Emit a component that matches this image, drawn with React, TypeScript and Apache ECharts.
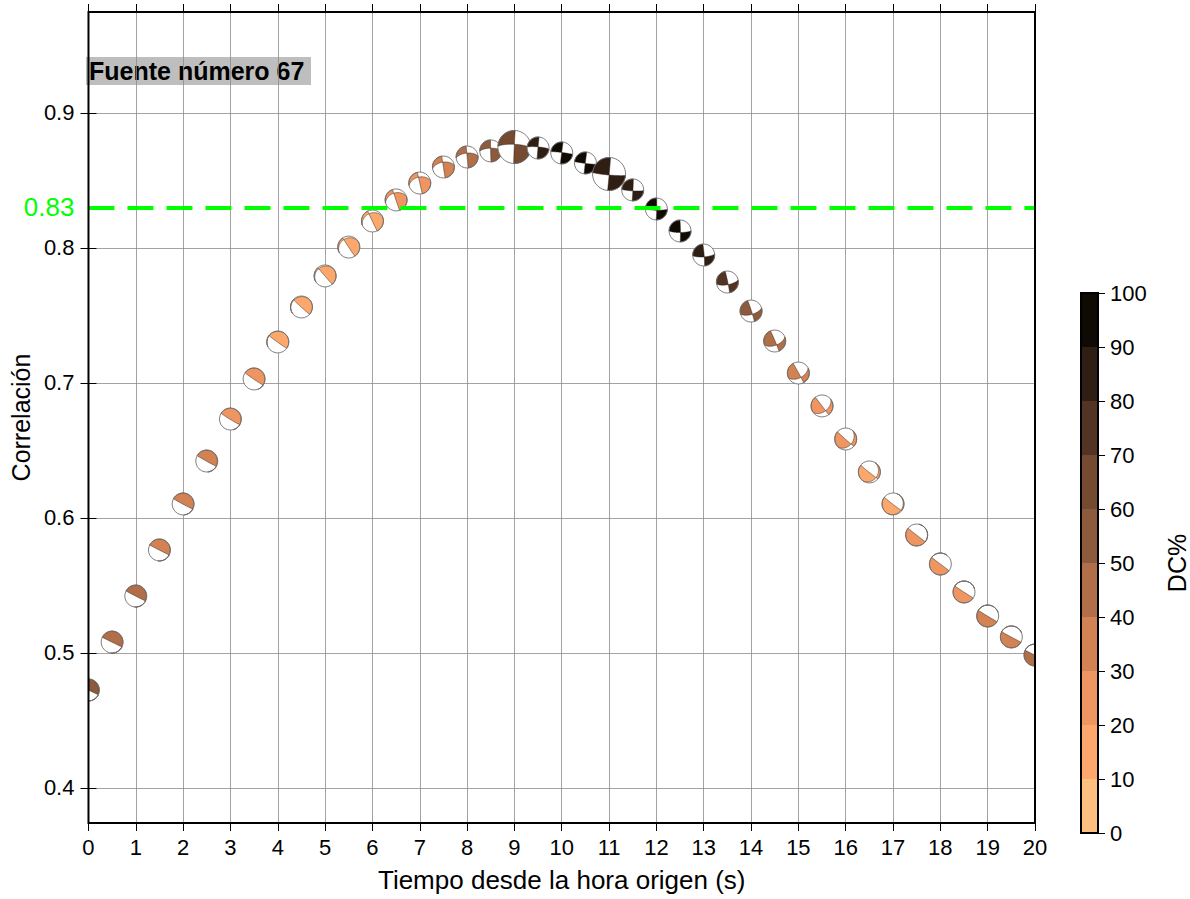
import React, { useEffect, useRef } from "react";
import * as echarts from "echarts";

// Origin-time scan for source 67: correlation, DC% and focal mechanism (T and P axes)
const times = [0, 0.5, 1, 1.5, 2, 2.5, 3, 3.5, 4, 4.5, 5, 5.5, 6, 6.5, 7, 7.5, 8, 8.5, 9, 9.5, 10, 10.5, 11, 11.5, 12, 12.5, 13, 13.5, 14, 14.5, 15, 15.5, 16, 16.5, 17, 17.5, 18, 18.5, 19, 19.5, 20];
const correlation = [0.4726, 0.5081, 0.5422, 0.5763, 0.6104, 0.6422, 0.6733, 0.703, 0.7304, 0.7563, 0.7793, 0.8007, 0.82, 0.8356, 0.8481, 0.86, 0.8674, 0.8719, 0.8748, 0.8741, 0.8704, 0.863, 0.8548, 0.843, 0.8289, 0.8126, 0.7948, 0.7748, 0.7533, 0.7311, 0.7074, 0.683, 0.6585, 0.6341, 0.6104, 0.5874, 0.5659, 0.5452, 0.5274, 0.5119, 0.4985];
const dcPercent = [55, 45, 48, 35, 35, 32, 25, 28, 15, 12, 12, 15, 15, 22, 25, 35, 45, 55, 65, 85, 95, 95, 85, 85, 95, 95, 85, 75, 55, 45, 35, 25, 28, 15, 15, 22, 25, 28, 35, 38, 45];
const tAzimuth = [22, 23, 24, 24, 25, 26, 28, 32, 40, 50, 62, 75, 90, 102, 112, 120, 126, 132, 137, 140, 142, 322, 320, 318, 316, 314, 310, 302, 295, 288, 280, 268, 250, 238, 226, 220, 216, 212, 210, 207, 205];
const tPlunge = [46, 46, 46, 46, 47, 47, 48, 48, 47, 46, 45, 43, 40, 36, 30, 25, 20, 15, 10, 6, 3, 2, 4, 6, 8, 10, 12, 16, 20, 24, 27, 30, 34, 38, 42, 44, 45, 44, 44, 44, 44];
const pAzimuth = [204, 205, 206, 206, 207, 208, 210, 212, 212, 215, 218, 220, 222, 224, 226, 228, 230, 232, 233, 231, 232, 52, 50, 48, 46, 44, 40, 36, 32, 28, 22, 18, 15, 20, 30, 36, 34, 30, 28, 25, 23];
const pPlunge = [44, 44, 44, 44, 43, 43, 42, 42, 42, 42, 40, 38, 35, 32, 28, 22, 18, 12, 8, 5, 2, 3, 3, 4, 5, 6, 8, 12, 15, 20, 25, 30, 35, 40, 44, 45, 46, 46, 46, 46, 46];
const relativeSize = [1, 1, 1, 1, 1, 1, 1, 1, 1, 1, 1, 1, 1, 1, 1, 1, 1, 1, 1.5, 1, 1, 1, 1.5, 1, 1, 1, 1, 1, 1, 1, 1, 1, 1, 1, 1, 1, 1, 1, 1, 1, 1];

const threshold = 0.83;
const yTicks = [0.4, 0.5, 0.6, 0.7, 0.8, 0.9];
const dcColors = ["#fdbf7f", "#fca86d", "#ee9561", "#d28253", "#b06e49", "#8e5a3d", "#744a31", "#533424", "#2f1e13", "#100a05"];
const dcStep = 10;

const FONT = '"Liberation Sans", Arial, Helvetica, sans-serif';
const BALL_RADIUS = 11;

type V3 = [number, number, number];
const D2R = Math.PI / 180;
const dot = (a: V3, b: V3) => a[0] * b[0] + a[1] * b[1] + a[2] * b[2];
const cross = (a: V3, b: V3): V3 => [a[1] * b[2] - a[2] * b[1], a[2] * b[0] - a[0] * b[2], a[0] * b[1] - a[1] * b[0]];
const unit = (a: V3): V3 => {
  const l = Math.hypot(a[0], a[1], a[2]) || 1;
  return [a[0] / l, a[1] / l, a[2] / l];
};
const neg = (a: V3): V3 => [-a[0], -a[1], -a[2]];
const lin = (a: V3, ka: number, b: V3, kb: number): V3 => [a[0] * ka + b[0] * kb, a[1] * ka + b[1] * kb, a[2] * ka + b[2] * kb];

// axis (azimuth, plunge) -> North/East/Down unit vector
const axisVec = (az: number, pl: number): V3 => [
  Math.cos(pl * D2R) * Math.cos(az * D2R),
  Math.cos(pl * D2R) * Math.sin(az * D2R),
  Math.sin(pl * D2R),
];

// lower-hemisphere equal-area projection, unit radius, screen x east / y south
const project = (r: V3): [number, number] => {
  const v = r[2] < 0 ? neg(r) : r;
  const inc = Math.acos(Math.max(-1, Math.min(1, v[2])));
  const az = Math.atan2(v[1], v[0]);
  const rho = Math.SQRT2 * Math.sin(inc / 2);
  return [rho * Math.sin(az), -rho * Math.cos(az)];
};

const planeBasis = (normal: V3) => {
  let hx = -normal[1];
  let hy = normal[0];
  let hl = Math.hypot(hx, hy);
  if (hl < 1e-9) {
    hx = 1;
    hy = 0;
    hl = 1;
  }
  const h: V3 = [hx / hl, hy / hl, 0];
  let d = unit(cross(normal, h));
  if (d[2] < 0) d = neg(d);
  return { h, d };
};

// compressional quadrants of a double couple, as polygons in the unit disc
function mechanismPolygons(tAz: number, tPl: number, pAz: number, pPl: number): [number, number][][] {
  const T = axisVec(tAz, tPl);
  const p0 = axisVec(pAz, pPl);
  let P = unit(lin(p0, 1, T, -dot(p0, T)));
  let B = unit(cross(T, P));
  // keep the null axis off the rim so the four quadrants stay distinct
  if (Math.abs(B[2]) < 0.03) {
    const a = 3 * D2R;
    P = unit(lin(P, Math.cos(a), B, Math.sin(a)));
    B = unit(cross(T, P));
  }
  if (B[2] < 0) B = neg(B);
  const n1 = unit(lin(T, 1, P, 1));
  const n2 = unit(lin(T, 1, P, -1));
  const polarity = (r: V3) => dot(T, r) ** 2 - dot(P, r) ** 2;
  const planes = [planeBasis(n1), planeBasis(n2)];
  const tB = planes.map(({ h, d }) => Math.atan2(dot(B, d), dot(B, h)));
  const pointAt = (idx: number, t: number): V3 => lin(planes[idx].h, Math.cos(t), planes[idx].d, Math.sin(t));
  const ends: { k: number; t: number; az: number }[] = [];
  for (let p = 0; p < 2; p++) {
    for (const t of [0, Math.PI]) {
      const r = pointAt(p, t);
      let az = Math.atan2(r[1], r[0]);
      if (az < 0) az += 2 * Math.PI;
      ends.push({ k: p, t, az });
    }
  }
  ends.sort((a, b) => a.az - b.az);
  const polys: [number, number][][] = [];
  const N = 36;
  for (let i = 0; i < 4; i++) {
    const a = ends[i];
    const b = ends[(i + 1) % 4];
    let span = b.az - a.az;
    if (span <= 0) span += 2 * Math.PI;
    const mid = a.az + span / 2;
    if (polarity([Math.cos(mid), Math.sin(mid), 0]) <= 0) continue;
    const pts: [number, number][] = [];
    for (let s = 0; s <= N; s++) {
      const t = tB[a.k] + ((a.t - tB[a.k]) * s) / N;
      pts.push(project(pointAt(a.k, t)));
    }
    const M = Math.max(2, Math.ceil(span / (3 * D2R)));
    for (let s = 1; s < M; s++) {
      const az = a.az + (span * s) / M;
      pts.push([Math.sin(az), -Math.cos(az)]);
    }
    for (let s = 0; s <= N; s++) {
      const t = b.t + ((tB[b.k] - b.t) * s) / N;
      pts.push(project(pointAt(b.k, t)));
    }
    polys.push(pts);
  }
  return polys;
}

const mechanisms = times.map((_, i) => mechanismPolygons(tAzimuth[i], tPlunge[i], pAzimuth[i], pPlunge[i]));
const dcColor = (v: number) => dcColors[Math.min(dcColors.length - 1, Math.max(0, Math.floor(v / dcStep)))];

const Y_MIN = 0.37407;
const Y_MAX = 0.97481;

export default function App() {
  const ref = useRef<HTMLDivElement>(null);

  useEffect(() => {
    if (!ref.current) return;
    const chart = echarts.init(ref.current, undefined, { renderer: "svg" });

    const ballData = times.map((t, i) => [t, correlation[i], dcPercent[i]]);

    const colorbarSeries = dcColors.map((c) => ({
      type: "bar",
      xAxisIndex: 2,
      yAxisIndex: 2,
      stack: "dc",
      silent: true,
      barWidth: "100%",
      data: [dcStep],
      itemStyle: { color: c },
    }));

    const tickFont = { fontFamily: FONT, fontSize: 22, color: "#000" };

    chart.setOption({
      animation: false,
      textStyle: { fontFamily: FONT },
      grid: [
        { left: 88, top: 12, width: 947, height: 811, show: true, borderColor: "#000", borderWidth: 2, backgroundColor: "transparent", z: 10 },
        { left: 1081, top: 293, width: 20, height: 540, show: true, borderColor: "#000", borderWidth: 2, backgroundColor: "transparent", z: 10 },
      ],
      xAxis: [
        {
          type: "value",
          gridIndex: 0,
          min: 0,
          max: 20,
          interval: 1,
          axisLine: { show: false },
          axisTick: { show: true, inside: false, length: 8, lineStyle: { color: "#000", width: 1 } },
          axisLabel: { ...tickFont, margin: 13 },
          splitLine: { show: true, lineStyle: { color: "#8c8c8c", width: 0.8 } },
          name: "Tiempo desde la hora origen (s)",
          nameLocation: "middle",
          nameGap: 44,
          nameTextStyle: { fontFamily: FONT, fontSize: 26, color: "#000" },
        },
        {
          type: "value",
          gridIndex: 0,
          position: "top",
          min: 0,
          max: 20,
          interval: 1,
          axisLine: { show: false },
          axisTick: { show: true, inside: false, length: 8, lineStyle: { color: "#000", width: 1 } },
          axisLabel: { show: false },
          splitLine: { show: false },
        },
        {
          type: "category",
          gridIndex: 1,
          data: ["DC%"],
          show: false,
        },
      ],
      yAxis: [
        {
          type: "value",
          gridIndex: 0,
          min: Y_MIN,
          max: Y_MAX,
          splitNumber: 6,
          axisLine: { show: false },
          axisTick: { show: true, inside: false, length: 8, customValues: yTicks, lineStyle: { color: "#000", width: 1 } },
          axisLabel: {
            ...tickFont,
            margin: 14,
            customValues: yTicks,
            formatter: (v: number) => (yTicks.some((t) => Math.abs(t - v) < 1e-6) ? v.toFixed(1) : ""),
          },
          splitLine: { show: true, lineStyle: { color: "#8c8c8c", width: 0.8 } },
          name: "Correlación",
          nameLocation: "middle",
          nameGap: 54,
          nameTextStyle: { fontFamily: FONT, fontSize: 25, color: "#000" },
        },
        {
          type: "value",
          gridIndex: 0,
          position: "right",
          min: Y_MIN,
          max: Y_MAX,
          splitNumber: 6,
          axisLine: { show: false },
          axisTick: { show: true, inside: false, length: 8, customValues: yTicks, lineStyle: { color: "#000", width: 1 } },
          axisLabel: { show: false },
          splitLine: { show: false },
        },
        {
          type: "value",
          gridIndex: 1,
          position: "right",
          min: 0,
          max: 100,
          interval: dcStep,
          axisLine: { show: false },
          axisTick: { show: true, inside: false, length: 7, lineStyle: { color: "#000", width: 1 } },
          axisLabel: { ...tickFont, margin: 12 },
          splitLine: { show: false },
          name: "DC%",
          nameLocation: "middle",
          nameRotate: 90,
          nameGap: 66,
          nameTextStyle: { fontFamily: FONT, fontSize: 25, color: "#000" },
        },
      ],
      series: [
        {
          type: "custom",
          xAxisIndex: 0,
          yAxisIndex: 0,
          clip: true,
          z: 3,
          silent: true,
          data: ballData,
          encode: { x: 0, y: 1 },
          renderItem: (params: any, api: any) => {
            const i = params.dataIndex;
            const c = api.coord([api.value(0), api.value(1)]);
            const R = BALL_RADIUS * relativeSize[i];
            const fill = dcColor(api.value(2));
            const children: any[] = [
              { type: "circle", shape: { cx: c[0], cy: c[1], r: R }, style: { fill: "#ffffff", stroke: "none" } },
            ];
            mechanisms[i].forEach((poly) => {
              children.push({
                type: "polygon",
                shape: { points: poly.map(([x, y]) => [c[0] + x * R, c[1] + y * R]) },
                style: { fill, stroke: "#2b1d14", lineWidth: 0.5 },
              });
            });
            children.push({
              type: "circle",
              shape: { cx: c[0], cy: c[1], r: R },
              style: { fill: "none", stroke: "#707070", lineWidth: 0.9 },
            });
            return { type: "group", children };
          },
        },
        {
          type: "line",
          xAxisIndex: 0,
          yAxisIndex: 0,
          z: 6,
          silent: true,
          data: [],
          markLine: {
            silent: true,
            symbol: ["none", "none"],
            animation: false,
            data: [{ yAxis: threshold }],
            lineStyle: { color: "#00ff00", width: 4, type: [26, 13] },
            label: {
              show: true,
              position: "start",
              formatter: String(threshold),
              color: "#00ff00",
              fontFamily: FONT,
              fontSize: 26,
              distance: 14,
            },
          },
        },
        ...colorbarSeries,
      ],
      graphic: [
        {
          type: "group",
          z: 100,
          children: [
            { type: "rect", shape: { x: 86, y: 57, width: 225, height: 28 }, style: { fill: "#bebebe" } },
            {
              type: "text",
              x: 89,
              y: 71,
              style: { text: "Fuente número 67", font: `bold 25px ${FONT}`, fill: "#000", verticalAlign: "middle" },
            },
          ],
        },
      ],
    });

    return () => chart.dispose();
  }, []);

  return <div ref={ref} style={{ position: "absolute", left: 0, top: 0, width: 1190, height: 899 }} />;
}
